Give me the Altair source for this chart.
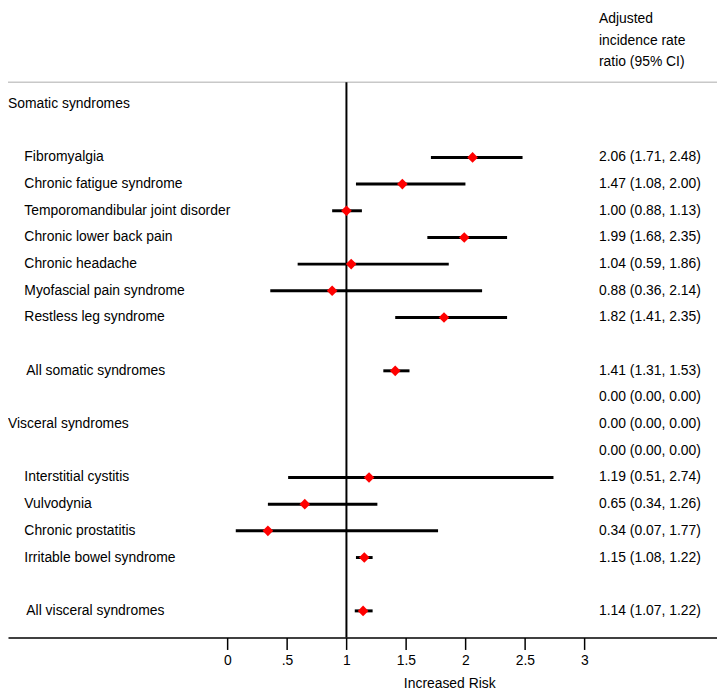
import altair as alt
import pandas as pd

# ---------------- data ----------------
labels = ["Somatic syndromes", "Fibromyalgia", "Chronic fatigue syndrome",
          "Temporomandibular joint disorder", "Chronic lower back pain",
          "Chronic headache", "Myofascial pain syndrome", "Restless leg syndrome",
          "All somatic syndromes", "Visceral syndromes", "Interstitial cystitis",
          "Vulvodynia", "Chronic prostatitis", "Irritable bowel syndrome",
          "All visceral syndromes"]
label_rows = [0, 2, 3, 4, 5, 6, 7, 8, 10, 12, 14, 15, 16, 17, 19]
label_kind = ["head", "item", "item", "item", "item", "item", "item", "item",
              "total", "head", "item", "item", "item", "item", "total"]

est_rows = [2, 3, 4, 5, 6, 7, 8, 10, 14, 15, 16, 17, 19]
rr = [2.06, 1.47, 1.00, 1.99, 1.04, 0.88, 1.82, 1.41, 1.19, 0.65, 0.34, 1.15, 1.14]
lo = [1.71, 1.08, 0.88, 1.68, 0.59, 0.36, 1.41, 1.31, 0.51, 0.34, 0.07, 1.08, 1.07]
hi = [2.48, 2.00, 1.13, 2.35, 1.86, 2.14, 2.35, 1.53, 2.74, 1.26, 1.77, 1.22, 1.22]

ci_rows = [2, 3, 4, 5, 6, 7, 8, 10, 11, 12, 13, 14, 15, 16, 17, 19]
ci_text = ["2.06 (1.71, 2.48)", "1.47 (1.08, 2.00)", "1.00 (0.88, 1.13)",
           "1.99 (1.68, 2.35)", "1.04 (0.59, 1.86)", "0.88 (0.36, 2.14)",
           "1.82 (1.41, 2.35)", "1.41 (1.31, 1.53)", "0.00 (0.00, 0.00)",
           "0.00 (0.00, 0.00)", "0.00 (0.00, 0.00)", "1.19 (0.51, 2.74)",
           "0.65 (0.34, 1.26)", "0.34 (0.07, 1.77)", "1.15 (1.08, 1.22)",
           "1.14 (1.07, 1.22)"]

header_lines = ["Adjusted", "incidence rate", "ratio (95% CI)"]
x_title = "Increased Risk"
tick_values = [0, 0.5, 1, 1.5, 2, 2.5, 3]
tick_labels = ["0", ".5", "1", "1.5", "2", "2.5", "3"]
null_value = 1

# ---------------- layout ----------------
FONT = "Liberation Sans"
FS = 14
W, H = 715, 632
PX_PER_UNIT = 120.0
X_ZERO_PX = 221.3
ROW_PX = 26.9
ROW0_PX = 94.0
x_dom = [-X_ZERO_PX / PX_PER_UNIT, (W - X_ZERO_PX) / PX_PER_UNIT]
y_dom = [-ROW0_PX / ROW_PX, (H - ROW0_PX) / ROW_PX]
indent = {"head": 0, "item": 16.5, "total": 18.5}

df_lab = pd.DataFrame({"row": label_rows, "label": labels,
                       "ind": [indent[k] for k in label_kind]})
df_est = pd.DataFrame({"row": est_rows, "rr": rr, "lo": lo, "hi": hi})
df_ci = pd.DataFrame({"row": ci_rows, "txt": ci_text})
df_one = pd.DataFrame({"k": [0]})

label_expr = " : ".join(
    f"datum.value == {v} ? '{t}'" for v, t in zip(tick_values, tick_labels)
) + " : ''"

xs = alt.Scale(domain=x_dom, nice=False, zero=False)
ys = alt.Scale(domain=y_dom, nice=False, zero=False, reverse=True)
xaxis = alt.Axis(values=tick_values, labelExpr=label_expr, grid=False,
                 domainColor="black", domainWidth=1.5, tickColor="black",
                 tickWidth=1.5, tickSize=12, labelFont=FONT, labelFontSize=FS,
                 labelColor="black", labelPadding=4, titleFont=FONT,
                 titleFontSize=FS, titleFontWeight="normal", titleColor="black",
                 titleX=445, titleY=46, titleBaseline="middle", titleAlign="center")
Y = alt.Y("row:Q", scale=ys, axis=None)

ci_lines = alt.Chart(df_est).mark_rule(color="black", strokeWidth=3).encode(
    x=alt.X("lo:Q", scale=xs, axis=xaxis, title=x_title),
    x2="hi:Q",
    y=Y,
)
points = alt.Chart(df_est).mark_point(shape="diamond", filled=True, color="red",
                                      size=115, opacity=1).encode(
    x=alt.X("rr:Q", scale=xs, axis=xaxis, title=x_title),
    y=Y,
)
null_line = alt.Chart(df_one).mark_rule(color="black", strokeWidth=2).encode(
    x=alt.datum(null_value, scale=xs, axis=xaxis, title=x_title),
    y=alt.value(72),
    y2=alt.value(H),
)
top_line = alt.Chart(df_one).mark_rule(color="#c8c8c8", strokeWidth=1.5).encode(
    x=alt.value(0), x2=alt.value(W), y=alt.value(72)
)
lab_text = alt.Chart(df_lab).mark_text(align="left", baseline="middle", font=FONT,
                                       fontSize=FS, color="black").encode(
    x=alt.X("ind:Q", scale=None),
    y=Y,
    text="label:N",
)
ci_txt = alt.Chart(df_ci).mark_text(align="left", baseline="middle", font=FONT,
                                    fontSize=FS, color="black").encode(
    x=alt.value(596),
    y=Y,
    text="txt:N",
)
header = alt.Chart(df_one).mark_text(align="left", baseline="middle", font=FONT,
                                     fontSize=FS, color="black", lineHeight=22,
                                     text=header_lines).encode(
    x=alt.value(596), y=alt.value(8)
)

chart = alt.layer(top_line, null_line, ci_lines, points, lab_text, ci_txt, header).properties(
    width=W, height=H,
    padding={"left": 0, "top": 0, "right": 0, "bottom": 50},
    autosize=alt.AutoSizeParams(type="none"),
    background="white",
).configure_view(stroke=None)

chart.save("out.html", embed_options={"renderer": "svg", "actions": False})
